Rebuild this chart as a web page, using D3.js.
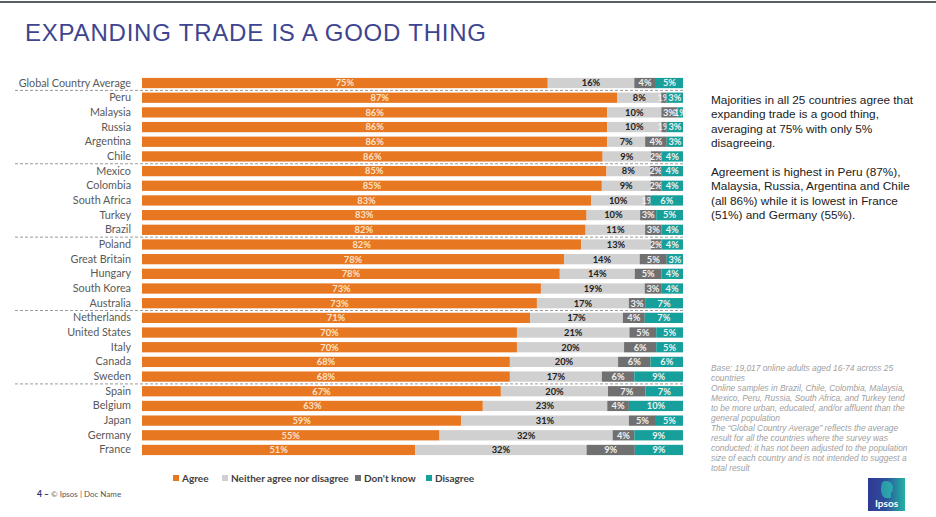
<!DOCTYPE html>
<html><head><meta charset="utf-8">
<script src="https://cdn.jsdelivr.net/npm/d3@7"></script>
<style>body{margin:0;background:#fff}svg{display:block}</style>
</head><body><svg id="c" width="936" height="517"></svg>
<script>
const countries = ["Global Country Average","Peru","Malaysia","Russia","Argentina","Chile","Mexico","Colombia","South Africa","Turkey","Brazil","Poland","Great Britain","Hungary","South Korea","Australia","Netherlands","United States","Italy","Canada","Sweden","Spain","Belgium","Japan","Germany","France"];
const agree    = [75,87,86,86,86,86,85,85,83,83,82,82,78,78,73,73,71,70,70,68,68,67,63,59,55,51];
const neither  = [16,8,10,10,7,9,8,9,10,10,11,13,14,14,19,17,17,21,20,20,17,20,23,31,32,32];
const dontKnow = [4,1,3,1,4,2,2,2,1,3,3,2,5,5,3,3,4,5,6,6,6,7,4,5,4,9];
const disagree = [5,3,1,3,3,4,4,4,6,5,4,4,3,4,4,7,7,5,5,6,9,7,10,5,9,9];
const seriesNames = ["Agree","Neither agree nor disagree","Don't know","Disagree"];
const groupEnds = ["Global Country Average","Chile","Brazil","Australia","Sweden"];

const colors = ["#E87722","#D0D0D0","#707070","#17A09B"];
const labelColors = ["#FBE3C8","#222222","#F0F0F0","#F0F0F0"];

const svg = d3.select("#c");
// top rule
svg.append("rect").attr("x",0).attr("y",1).attr("width",936).attr("height",2).attr("fill","#5a5f66");

svg.append("text").attr("x",25).attr("y",41).text("EXPANDING TRADE IS A GOOD THING")
  .attr("font-family","Liberation Sans, Arial, sans-serif").attr("font-size",24)
  .attr("textLength",461).attr("lengthAdjust","spacing").attr("fill","#3E4590");

const rows = countries.map((c,i)=>({country:c, Agree:agree[i], "Neither agree nor disagree":neither[i], "Don't know":dontKnow[i], Disagree:disagree[i]}));
const stack = d3.stack().keys(seriesNames).offset(d3.stackOffsetExpand);
const layers = stack(rows);

const x = d3.scaleLinear().domain([0,1]).range([142,683]);
const y = d3.scaleBand().domain(countries).range([75.7,457.3]).paddingInner(0.3).paddingOuter(0.15);

const g = svg.append("g");
layers.forEach((layer,li)=>{
  const lg = g.append("g");
  lg.selectAll("rect").data(layer).join("rect")
    .attr("x",d=>x(d[0])).attr("y",d=>y(d.data.country))
    .attr("width",d=>x(d[1])-x(d[0])).attr("height",y.bandwidth())
    .attr("fill",colors[li]);
  lg.selectAll("text").data(layer).join("text")
    .attr("x",d=>(x(d[0])+x(d[1]))/2).attr("y",d=>y(d.data.country)+y.bandwidth()/2)
    .attr("dy","0.36em").attr("text-anchor","middle")
    .attr("font-family","Lato, sans-serif").attr("font-weight","bold").attr("font-size",9.3)
    .attr("fill",labelColors[li])
    .text(d=>d.data[seriesNames[li]]+"%");
});

// category axis labels
const yAxis = d3.axisLeft(y).tickSize(0).tickPadding(0);
const ax = svg.append("g").attr("transform","translate(131,0)").call(yAxis);
ax.select(".domain").remove();
ax.selectAll("text").attr("font-family","Lato, sans-serif").attr("font-size",10.8).attr("fill","#595959");

// dashed separators
groupEnds.forEach(c=>{
  const yy = y(c)+y.bandwidth()+y.step()*0.15;
  svg.append("line").attr("x1",15).attr("x2",683).attr("y1",yy).attr("y2",yy)
    .attr("stroke","#9a9a9a").attr("stroke-width",1).attr("stroke-dasharray","3,2");
});

// legend
const legX = [173,222,355,426];
seriesNames.forEach((s,i)=>{
  svg.append("rect").attr("x",legX[i]).attr("y",475).attr("width",6).attr("height",6).attr("fill",colors[i]);
  svg.append("text").attr("x",legX[i]+9).attr("y",478).attr("dy","0.36em").text(s)
    .attr("font-family","Lato, sans-serif").attr("font-weight","bold").attr("font-size",10).attr("fill","#404040");
});

// right commentary
const para = ["Majorities in all 25 countries agree that","expanding trade is a good thing,","averaging at 75% with only 5%","disagreeing.","","Agreement is highest in Peru (87%),","Malaysia, Russia, Argentina and Chile","(all 86%) while it is lowest in France","(51%) and Germany (55%)."];
const pt = svg.append("text").attr("font-family","Liberation Sans, Arial, sans-serif").attr("font-size",11.8).attr("fill","#1a1a1a");
para.forEach((l,i)=>pt.append("tspan").attr("x",711).attr("y",104+i*14.4).text(l));

const notes = ["Base: 19,017 online adults aged 16-74 across 25","countries","Online samples in Brazil, Chile, Colombia, Malaysia,","Mexico, Peru, Russia, South Africa, and Turkey tend","to be more urban, educated, and/or affluent than the","general population","The \u201cGlobal Country Average\u201d reflects the average","result for all the countries where the survey was","conducted; it has not been adjusted to the population","size of each country and is not intended to suggest a","total result"];
const nt = svg.append("text").attr("font-family","Liberation Sans, Arial, sans-serif").attr("font-size",8.4).attr("font-style","italic").attr("fill","#a0a0a0");
notes.forEach((l,i)=>nt.append("tspan").attr("x",711).attr("y",371+i*10).text(l));

// footer
const ft = svg.append("text").attr("x",37).attr("y",497).attr("font-family","Lato, sans-serif").attr("font-size",8);
ft.append("tspan").attr("font-weight","bold").attr("fill","#2c2f6b").attr("font-size",8.5).text("4 \u2013 ");
ft.append("tspan").attr("fill","#555").text(" \u00a9 Ipsos | Doc Name");

// logo
const defs = svg.append("defs");
const grad = defs.append("linearGradient").attr("id","lg").attr("x1","0").attr("x2","1").attr("y1","0").attr("y2","0");
grad.append("stop").attr("offset","0").attr("stop-color","#2E3A92");
grad.append("stop").attr("offset","0.45").attr("stop-color","#2E4C9C");
grad.append("stop").attr("offset","1").attr("stop-color","#22B3A3");
svg.append("rect").attr("x",868).attr("y",478).attr("width",37).attr("height",33).attr("fill","url(#lg)");
svg.append("path").attr("d","M884,481 q8,-1 9,6 q0,4 -2,6 l0,5 l-6,0 q-4,-3 -4,-8 q0,-8 3,-9z").attr("fill","#2BC0B0").attr("opacity",0.7);
svg.append("text").attr("x",886.5).attr("y",507).attr("text-anchor","middle").text("Ipsos")
  .attr("font-family","Lato, sans-serif").attr("font-weight","bold").attr("font-size",10).attr("fill","#fff");
</script></body></html>
